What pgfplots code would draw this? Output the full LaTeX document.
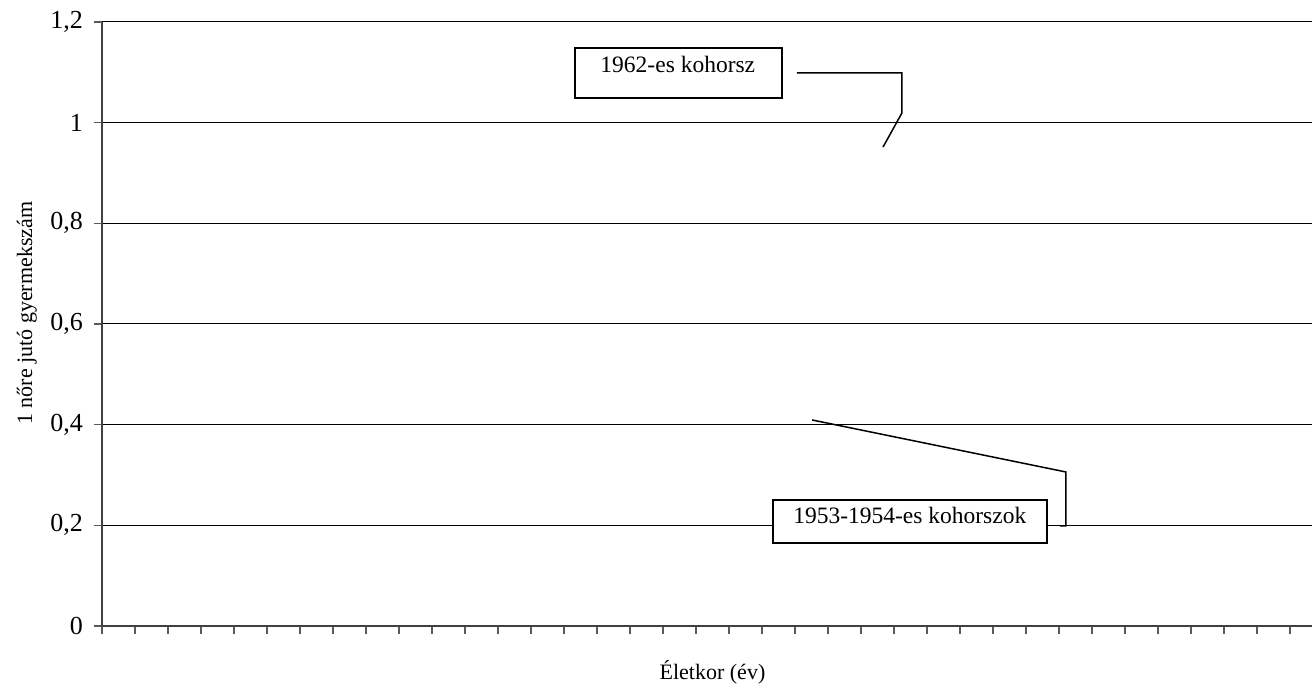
\documentclass[border=0pt]{standalone}
\usepackage{fontspec}
\setmainfont{Liberation Serif}
\usepackage{pgfplots}
\pgfplotsset{compat=1.18}
\begin{document}
\begin{tikzpicture}[font=\fontsize{22}{26}\selectfont]
\useasboundingbox (0,0) rectangle (1312pt,688pt);
\begin{axis}[
  at={(102pt,62pt)}, anchor=south west,
  scale only axis, width=1221pt, height=604pt,
  xmin=0, xmax=37, ymin=0, ymax=1.2,
  clip=false,
  axis x line*=bottom, axis y line*=left,
  axis line style={-, black!75, line width=1.5pt},
  xtick={0,...,36}, xticklabels={},
  ytick={0,0.2,0.4,0.6,0.8,1},
  extra y ticks={1.2},
  extra y tick style={grid style={black!40, line width=2.5pt}},
  ymajorgrids, major grid style={black, line width=1pt},
  tick align=outside, major tick length=8pt,
  tick style={black!65, line width=1.5pt},
  /pgf/number format/use comma,
  /pgf/number format/assume math mode=true,
  yticklabel style={anchor=east, inner sep=0pt, xshift=-11pt, font=\fontsize{26}{30}\selectfont},
  xlabel={Életkor (év)},
  xlabel style={at={(rel axis cs:0.5,-0.0894)}, anchor=base},
  ylabel={1 nőre jutó gyermekszám},
  ylabel style={at={(rel axis cs:-0.05733,0.518)}, anchor=base},
]
\addplot[draw=none] coordinates {(0,0)};
\draw[line width=1.5pt] (axis cs:14.333,1.1484) rectangle (axis cs:20.606,1.0490);
\node[anchor=base, font=\fontsize{23.5}{28}\selectfont] at (axis cs:17.45,1.0987) {1962-es kohorsz};
\draw[line width=1.5pt] (axis cs:21.06,1.0987) -- (axis cs:24.24,1.0987) -- (axis cs:24.24,1.0192) -- (axis cs:23.67,0.9517);
\draw[line width=1.5pt, fill=white] (axis cs:20.33,0.2503) rectangle (axis cs:28.64,0.1649);
\node[anchor=base, font=\fontsize{23.5}{28}\selectfont] at (axis cs:24.48,0.2046) {1953-1954-es kohorszok};
\draw[line width=1.5pt] (axis cs:21.52,0.4093) -- (axis cs:29.21,0.3060) -- (axis cs:29.21,0.1987) -- (axis cs:29.03,0.1987);
\end{axis}
\end{tikzpicture}
\end{document}
